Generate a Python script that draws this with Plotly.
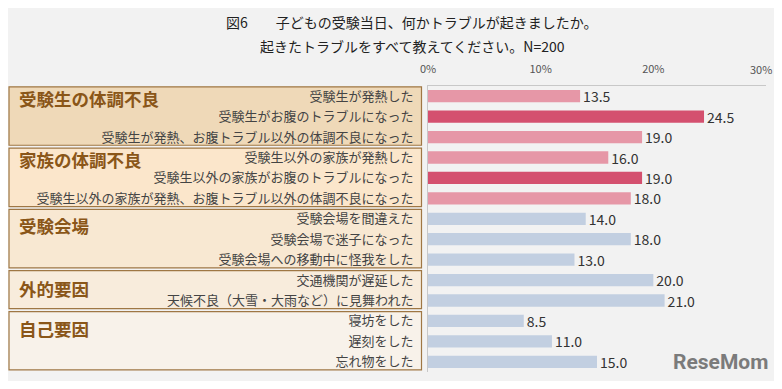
import plotly.graph_objects as go

# ---- data ----
groups = ["受験生の体調不良", "家族の体調不良", "受験会場", "外的要因", "自己要因"]
group_sizes = [3, 3, 3, 2, 3]
items = [
    "受験生が発熱した",
    "受験生がお腹のトラブルになった",
    "受験生が発熱、お腹トラブル以外の体調不良になった",
    "受験生以外の家族が発熱した",
    "受験生以外の家族がお腹のトラブルになった",
    "受験生以外の家族が発熱、お腹トラブル以外の体調不良になった",
    "受験会場を間違えた",
    "受験会場で迷子になった",
    "受験会場への移動中に怪我をした",
    "交通機関が遅延した",
    "天候不良（大雪・大雨など）に見舞われた",
    "寝坊をした",
    "遅刻をした",
    "忘れ物をした",
]
values = [13.5, 24.5, 19.0, 16.0, 19.0, 18.0, 14.0, 18.0, 13.0, 20.0, 21.0, 8.5, 11.0, 15.0]
tick_vals = [0, 10, 20, 30]
tick_text = ["0%", "10%", "20%", "30%"]
title_line1 = "図6　　子どもの受験当日、何かトラブルが起きましたか。"
title_line2 = "起きたトラブルをすべて教えてください。N=200"

# ---- style ----
OFF = 8  # page body margin compensation (figure sits 8px in from the page corner)
W, H = 782 - 2 * OFF, 389 - 2 * OFF
PLOT_X0, PLOT_X1 = 428, 766      # page pixels
PLOT_Y0, PLOT_Y1 = 86, 372.5     # page pixels
L, R = PLOT_X0 - OFF, W - (PLOT_X1 - OFF)
T, B = PLOT_Y0 - OFF, H - (PLOT_Y1 - OFF)
PW = W - L - R
PH = H - T - B
FONT = "Noto Sans CJK JP"
TICK_FONT = dict(family=FONT, size=11, color="#555555")

light_pink, dark_pink, blue = "#e697a7", "#d4506f", "#c2cfe1"
bar_colors = [light_pink, dark_pink, light_pink, light_pink, dark_pink, light_pink] + [blue] * 8
box_fills = ["#efd9b8", "#fbe6cb", "#f8e8d2", "#f8ecdc", "#f8f2ea"]
box_line = "#9f7744"
title_offsets = [0.12, 0.08, 0.34, 0.41, 0.36]


def px_x(px):
    return (px - OFF - L) / PW


def px_y(py):
    return (H - B - (py - OFF)) / PH


fig = go.Figure()
fig.add_trace(go.Bar(
    x=values, y=items, orientation="h",
    marker=dict(color=bar_colors, line=dict(width=0)),
    width=0.6,
    text=[f"{v:.1f}" for v in values],
    textposition="outside",
    constraintext="none",
    textfont=dict(family=FONT, size=14, color="#333333"),
    cliponaxis=False,
    hoverinfo="skip",
))

shapes = []
annotations = []
start = 0
for g, n, fill, off in zip(groups, group_sizes, box_fills, title_offsets):
    shapes.append(dict(
        type="rect", xref="paper", yref="y",
        x0=px_x(9), x1=px_x(421.5),
        y0=start - 0.5 + 0.04, y1=start + n - 0.5 - 0.1,
        fillcolor=fill, line=dict(color=box_line, width=1.2), layer="below",
    ))
    annotations.append(dict(
        text=f"<b>{g}</b>", xref="paper", yref="y",
        x=px_x(17), y=start + off, xanchor="left", yanchor="middle",
        showarrow=False, font=dict(family=FONT, size=17.5, color="#8a5618"),
    ))
    start += n

# the last tick label would fall past the figure edge; draw it right-anchored at the edge
annotations.append(dict(
    text=tick_text[-1], xref="paper", yref="paper", x=1 + R / PW, y=px_y(68.5),
    xanchor="right", yanchor="middle", showarrow=False, font=TICK_FONT,
))

annotations += [
    dict(text=title_line1, xref="paper", yref="paper", x=px_x(412), y=px_y(22),
         xanchor="center", yanchor="middle", showarrow=False,
         font=dict(family=FONT, size=14, color="#222222")),
    dict(text=title_line2, xref="paper", yref="paper", x=px_x(412), y=px_y(46),
         xanchor="center", yanchor="middle", showarrow=False,
         font=dict(family=FONT, size=14, color="#222222")),
    dict(text="<b>ReseMom</b>", xref="paper", yref="paper", x=px_x(720), y=px_y(362),
         xanchor="center", yanchor="middle", showarrow=False,
         font=dict(family="Roboto", size=21, color="#7b7b7b")),
]

fig.update_layout(
    width=W, height=H,
    margin=dict(l=L, r=R, t=T, b=B, pad=0, autoexpand=False),
    paper_bgcolor="#f2f2f2", plot_bgcolor="#f2f2f2",
    showlegend=False,
    shapes=shapes, annotations=annotations,
    xaxis=dict(
        side="top", range=[0, 30], tickvals=tick_vals[:-1], ticktext=tick_text[:-1],
        showgrid=False, zeroline=False, showline=True, linecolor="#c8c8c8", linewidth=1,
        ticks="", ticklabelstandoff=8, automargin=False,
        tickfont=TICK_FONT,
    ),
    yaxis=dict(
        type="category", categoryorder="array", categoryarray=items,
        range=[len(items) - 0.5, -0.5],
        showgrid=False, zeroline=False, showline=True, linecolor="#c8c8c8", linewidth=1,
        ticks="", ticklabelstandoff=11, automargin=False,
        tickfont=dict(family=FONT, size=13, color="#444444"),
    ),
)

fig.write_html("out.html")
